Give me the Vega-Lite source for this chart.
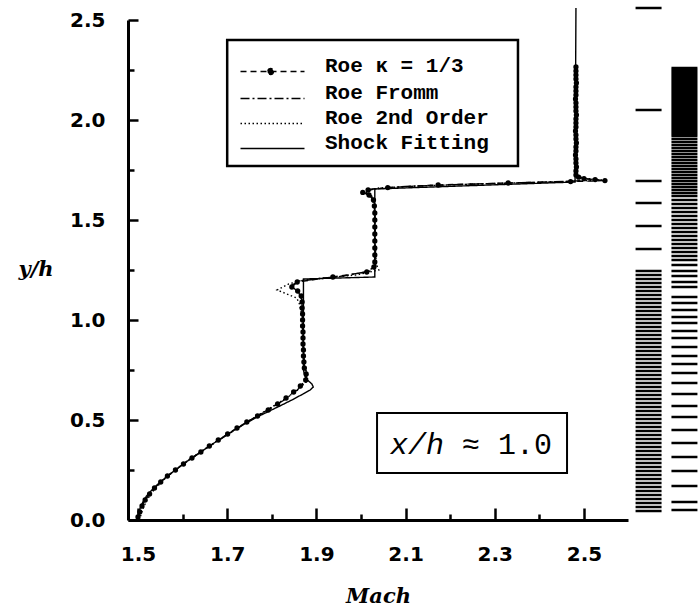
{
  "$schema": "https://vega.github.io/schema/vega-lite/v6.json",
  "width": 500,
  "height": 500,
  "autosize": {"type": "none"},
  "padding": {"left": 128, "top": 20, "right": 70, "bottom": 93},
  "background": "white",
  "config": {"view": {"stroke": null}, "font": "DejaVu Sans"},
  "datasets": {
    "curves": [
      {"series": "Roe κ = 1/3", "yh": 0.015, "mach": 1.500},
      {"series": "Roe κ = 1/3", "yh": 0.04, "mach": 1.504},
      {"series": "Roe κ = 1/3", "yh": 0.07, "mach": 1.509},
      {"series": "Roe κ = 1/3", "yh": 0.10, "mach": 1.516},
      {"series": "Roe κ = 1/3", "yh": 0.13, "mach": 1.526},
      {"series": "Roe κ = 1/3", "yh": 0.16, "mach": 1.537},
      {"series": "Roe κ = 1/3", "yh": 0.19, "mach": 1.551},
      {"series": "Roe κ = 1/3", "yh": 0.22, "mach": 1.566},
      {"series": "Roe κ = 1/3", "yh": 0.25, "mach": 1.584},
      {"series": "Roe κ = 1/3", "yh": 0.28, "mach": 1.602},
      {"series": "Roe κ = 1/3", "yh": 0.31, "mach": 1.621},
      {"series": "Roe κ = 1/3", "yh": 0.34, "mach": 1.641},
      {"series": "Roe κ = 1/3", "yh": 0.37, "mach": 1.660},
      {"series": "Roe κ = 1/3", "yh": 0.40, "mach": 1.680},
      {"series": "Roe κ = 1/3", "yh": 0.43, "mach": 1.701},
      {"series": "Roe κ = 1/3", "yh": 0.46, "mach": 1.722},
      {"series": "Roe κ = 1/3", "yh": 0.49, "mach": 1.744},
      {"series": "Roe κ = 1/3", "yh": 0.52, "mach": 1.768},
      {"series": "Roe κ = 1/3", "yh": 0.55, "mach": 1.792},
      {"series": "Roe κ = 1/3", "yh": 0.58, "mach": 1.813},
      {"series": "Roe κ = 1/3", "yh": 0.61, "mach": 1.832},
      {"series": "Roe κ = 1/3", "yh": 0.64, "mach": 1.849},
      {"series": "Roe κ = 1/3", "yh": 0.67, "mach": 1.864},
      {"series": "Roe κ = 1/3", "yh": 0.70, "mach": 1.876},
      {"series": "Roe κ = 1/3", "yh": 0.73, "mach": 1.877},
      {"series": "Roe κ = 1/3", "yh": 0.76, "mach": 1.873},
      {"series": "Roe κ = 1/3", "yh": 0.79, "mach": 1.872},
      {"series": "Roe κ = 1/3", "yh": 0.82, "mach": 1.871},
      {"series": "Roe κ = 1/3", "yh": 0.85, "mach": 1.871},
      {"series": "Roe κ = 1/3", "yh": 0.88, "mach": 1.870},
      {"series": "Roe κ = 1/3", "yh": 0.91, "mach": 1.870},
      {"series": "Roe κ = 1/3", "yh": 0.94, "mach": 1.870},
      {"series": "Roe κ = 1/3", "yh": 0.97, "mach": 1.869},
      {"series": "Roe κ = 1/3", "yh": 1.00, "mach": 1.869},
      {"series": "Roe κ = 1/3", "yh": 1.03, "mach": 1.869},
      {"series": "Roe κ = 1/3", "yh": 1.06, "mach": 1.868},
      {"series": "Roe κ = 1/3", "yh": 1.09, "mach": 1.868},
      {"series": "Roe κ = 1/3", "yh": 1.12, "mach": 1.866},
      {"series": "Roe κ = 1/3", "yh": 1.145, "mach": 1.858},
      {"series": "Roe κ = 1/3", "yh": 1.165, "mach": 1.845},
      {"series": "Roe κ = 1/3", "yh": 1.19, "mach": 1.857},
      {"series": "Roe κ = 1/3", "yh": 1.215, "mach": 1.937},
      {"series": "Roe κ = 1/3", "yh": 1.24, "mach": 2.013},
      {"series": "Roe κ = 1/3", "yh": 1.265, "mach": 2.029},
      {"series": "Roe κ = 1/3", "yh": 1.29, "mach": 2.031},
      {"series": "Roe κ = 1/3", "yh": 1.325, "mach": 2.031},
      {"series": "Roe κ = 1/3", "yh": 1.36, "mach": 2.031},
      {"series": "Roe κ = 1/3", "yh": 1.395, "mach": 2.031},
      {"series": "Roe κ = 1/3", "yh": 1.43, "mach": 2.031},
      {"series": "Roe κ = 1/3", "yh": 1.465, "mach": 2.031},
      {"series": "Roe κ = 1/3", "yh": 1.50, "mach": 2.031},
      {"series": "Roe κ = 1/3", "yh": 1.535, "mach": 2.031},
      {"series": "Roe κ = 1/3", "yh": 1.57, "mach": 2.030},
      {"series": "Roe κ = 1/3", "yh": 1.60, "mach": 2.028},
      {"series": "Roe κ = 1/3", "yh": 1.625, "mach": 2.018},
      {"series": "Roe κ = 1/3", "yh": 1.638, "mach": 2.004},
      {"series": "Roe κ = 1/3", "yh": 1.65, "mach": 2.016},
      {"series": "Roe κ = 1/3", "yh": 1.662, "mach": 2.060},
      {"series": "Roe κ = 1/3", "yh": 1.675, "mach": 2.173},
      {"series": "Roe κ = 1/3", "yh": 1.685, "mach": 2.330},
      {"series": "Roe κ = 1/3", "yh": 1.692, "mach": 2.470},
      {"series": "Roe κ = 1/3", "yh": 1.697, "mach": 2.547},
      {"series": "Roe κ = 1/3", "yh": 1.702, "mach": 2.525},
      {"series": "Roe κ = 1/3", "yh": 1.707, "mach": 2.500},
      {"series": "Roe κ = 1/3", "yh": 1.714, "mach": 2.488},
      {"series": "Roe κ = 1/3", "yh": 1.725, "mach": 2.482},
      {"series": "Roe κ = 1/3", "yh": 1.745, "mach": 2.482},
      {"series": "Roe κ = 1/3", "yh": 1.765, "mach": 2.483},
      {"series": "Roe κ = 1/3", "yh": 1.785, "mach": 2.482},
      {"series": "Roe κ = 1/3", "yh": 1.805, "mach": 2.482},
      {"series": "Roe κ = 1/3", "yh": 1.825, "mach": 2.481},
      {"series": "Roe κ = 1/3", "yh": 1.845, "mach": 2.482},
      {"series": "Roe κ = 1/3", "yh": 1.865, "mach": 2.482},
      {"series": "Roe κ = 1/3", "yh": 1.885, "mach": 2.483},
      {"series": "Roe κ = 1/3", "yh": 1.905, "mach": 2.482},
      {"series": "Roe κ = 1/3", "yh": 1.925, "mach": 2.482},
      {"series": "Roe κ = 1/3", "yh": 1.945, "mach": 2.481},
      {"series": "Roe κ = 1/3", "yh": 1.965, "mach": 2.482},
      {"series": "Roe κ = 1/3", "yh": 1.985, "mach": 2.482},
      {"series": "Roe κ = 1/3", "yh": 2.005, "mach": 2.482},
      {"series": "Roe κ = 1/3", "yh": 2.025, "mach": 2.483},
      {"series": "Roe κ = 1/3", "yh": 2.045, "mach": 2.482},
      {"series": "Roe κ = 1/3", "yh": 2.065, "mach": 2.482},
      {"series": "Roe κ = 1/3", "yh": 2.085, "mach": 2.482},
      {"series": "Roe κ = 1/3", "yh": 2.105, "mach": 2.481},
      {"series": "Roe κ = 1/3", "yh": 2.125, "mach": 2.482},
      {"series": "Roe κ = 1/3", "yh": 2.145, "mach": 2.482},
      {"series": "Roe κ = 1/3", "yh": 2.165, "mach": 2.482},
      {"series": "Roe κ = 1/3", "yh": 2.185, "mach": 2.483},
      {"series": "Roe κ = 1/3", "yh": 2.205, "mach": 2.482},
      {"series": "Roe κ = 1/3", "yh": 2.225, "mach": 2.482},
      {"series": "Roe κ = 1/3", "yh": 2.245, "mach": 2.482},
      {"series": "Roe κ = 1/3", "yh": 2.265, "mach": 2.482},

      {"series": "Roe Fromm", "yh": 0.0, "mach": 1.501},
      {"series": "Roe Fromm", "yh": 0.05, "mach": 1.505},
      {"series": "Roe Fromm", "yh": 0.10, "mach": 1.515},
      {"series": "Roe Fromm", "yh": 0.15, "mach": 1.533},
      {"series": "Roe Fromm", "yh": 0.20, "mach": 1.555},
      {"series": "Roe Fromm", "yh": 0.25, "mach": 1.583},
      {"series": "Roe Fromm", "yh": 0.30, "mach": 1.615},
      {"series": "Roe Fromm", "yh": 0.35, "mach": 1.648},
      {"series": "Roe Fromm", "yh": 0.40, "mach": 1.682},
      {"series": "Roe Fromm", "yh": 0.45, "mach": 1.717},
      {"series": "Roe Fromm", "yh": 0.50, "mach": 1.753},
      {"series": "Roe Fromm", "yh": 0.55, "mach": 1.790},
      {"series": "Roe Fromm", "yh": 0.60, "mach": 1.828},
      {"series": "Roe Fromm", "yh": 0.65, "mach": 1.857},
      {"series": "Roe Fromm", "yh": 0.69, "mach": 1.876},
      {"series": "Roe Fromm", "yh": 0.73, "mach": 1.879},
      {"series": "Roe Fromm", "yh": 0.77, "mach": 1.873},
      {"series": "Roe Fromm", "yh": 0.85, "mach": 1.871},
      {"series": "Roe Fromm", "yh": 1.00, "mach": 1.869},
      {"series": "Roe Fromm", "yh": 1.10, "mach": 1.867},
      {"series": "Roe Fromm", "yh": 1.14, "mach": 1.860},
      {"series": "Roe Fromm", "yh": 1.17, "mach": 1.842},
      {"series": "Roe Fromm", "yh": 1.195, "mach": 1.862},
      {"series": "Roe Fromm", "yh": 1.22, "mach": 1.960},
      {"series": "Roe Fromm", "yh": 1.245, "mach": 2.022},
      {"series": "Roe Fromm", "yh": 1.27, "mach": 2.033},
      {"series": "Roe Fromm", "yh": 1.40, "mach": 2.032},
      {"series": "Roe Fromm", "yh": 1.55, "mach": 2.031},
      {"series": "Roe Fromm", "yh": 1.62, "mach": 2.024},
      {"series": "Roe Fromm", "yh": 1.64, "mach": 2.010},
      {"series": "Roe Fromm", "yh": 1.655, "mach": 2.025},
      {"series": "Roe Fromm", "yh": 1.668, "mach": 2.100},
      {"series": "Roe Fromm", "yh": 1.68, "mach": 2.260},
      {"series": "Roe Fromm", "yh": 1.69, "mach": 2.420},
      {"series": "Roe Fromm", "yh": 1.697, "mach": 2.500},
      {"series": "Roe Fromm", "yh": 1.703, "mach": 2.515},
      {"series": "Roe Fromm", "yh": 1.71, "mach": 2.490},
      {"series": "Roe Fromm", "yh": 1.725, "mach": 2.483},
      {"series": "Roe Fromm", "yh": 2.00, "mach": 2.482},
      {"series": "Roe Fromm", "yh": 2.265, "mach": 2.482},

      {"series": "Roe 2nd Order", "yh": 0.0, "mach": 1.503},
      {"series": "Roe 2nd Order", "yh": 0.05, "mach": 1.510},
      {"series": "Roe 2nd Order", "yh": 0.10, "mach": 1.520},
      {"series": "Roe 2nd Order", "yh": 0.15, "mach": 1.536},
      {"series": "Roe 2nd Order", "yh": 0.20, "mach": 1.557},
      {"series": "Roe 2nd Order", "yh": 0.25, "mach": 1.583},
      {"series": "Roe 2nd Order", "yh": 0.30, "mach": 1.613},
      {"series": "Roe 2nd Order", "yh": 0.35, "mach": 1.646},
      {"series": "Roe 2nd Order", "yh": 0.40, "mach": 1.681},
      {"series": "Roe 2nd Order", "yh": 0.45, "mach": 1.716},
      {"series": "Roe 2nd Order", "yh": 0.50, "mach": 1.752},
      {"series": "Roe 2nd Order", "yh": 0.55, "mach": 1.789},
      {"series": "Roe 2nd Order", "yh": 0.60, "mach": 1.826},
      {"series": "Roe 2nd Order", "yh": 0.65, "mach": 1.858},
      {"series": "Roe 2nd Order", "yh": 0.69, "mach": 1.877},
      {"series": "Roe 2nd Order", "yh": 0.72, "mach": 1.882},
      {"series": "Roe 2nd Order", "yh": 0.75, "mach": 1.876},
      {"series": "Roe 2nd Order", "yh": 0.80, "mach": 1.872},
      {"series": "Roe 2nd Order", "yh": 1.00, "mach": 1.870},
      {"series": "Roe 2nd Order", "yh": 1.08, "mach": 1.862},
      {"series": "Roe 2nd Order", "yh": 1.11, "mach": 1.856},
      {"series": "Roe 2nd Order", "yh": 1.15, "mach": 1.812},
      {"series": "Roe 2nd Order", "yh": 1.18, "mach": 1.838},
      {"series": "Roe 2nd Order", "yh": 1.20, "mach": 1.870},
      {"series": "Roe 2nd Order", "yh": 1.225, "mach": 1.990},
      {"series": "Roe 2nd Order", "yh": 1.25, "mach": 2.040},
      {"series": "Roe 2nd Order", "yh": 1.28, "mach": 2.034},
      {"series": "Roe 2nd Order", "yh": 1.45, "mach": 2.031},
      {"series": "Roe 2nd Order", "yh": 1.60, "mach": 2.029},
      {"series": "Roe 2nd Order", "yh": 1.63, "mach": 2.012},
      {"series": "Roe 2nd Order", "yh": 1.645, "mach": 2.000},
      {"series": "Roe 2nd Order", "yh": 1.66, "mach": 2.040},
      {"series": "Roe 2nd Order", "yh": 1.672, "mach": 2.150},
      {"series": "Roe 2nd Order", "yh": 1.684, "mach": 2.320},
      {"series": "Roe 2nd Order", "yh": 1.693, "mach": 2.470},
      {"series": "Roe 2nd Order", "yh": 1.700, "mach": 2.540},
      {"series": "Roe 2nd Order", "yh": 1.708, "mach": 2.505},
      {"series": "Roe 2nd Order", "yh": 1.72, "mach": 2.479},
      {"series": "Roe 2nd Order", "yh": 1.75, "mach": 2.484},
      {"series": "Roe 2nd Order", "yh": 2.00, "mach": 2.482},
      {"series": "Roe 2nd Order", "yh": 2.265, "mach": 2.482},

      {"series": "Shock Fitting", "yh": 0.0, "mach": 1.499},
      {"series": "Shock Fitting", "yh": 0.03, "mach": 1.501},
      {"series": "Shock Fitting", "yh": 0.06, "mach": 1.505},
      {"series": "Shock Fitting", "yh": 0.09, "mach": 1.511},
      {"series": "Shock Fitting", "yh": 0.12, "mach": 1.519},
      {"series": "Shock Fitting", "yh": 0.15, "mach": 1.531},
      {"series": "Shock Fitting", "yh": 0.18, "mach": 1.545},
      {"series": "Shock Fitting", "yh": 0.21, "mach": 1.561},
      {"series": "Shock Fitting", "yh": 0.24, "mach": 1.578},
      {"series": "Shock Fitting", "yh": 0.27, "mach": 1.596},
      {"series": "Shock Fitting", "yh": 0.30, "mach": 1.614},
      {"series": "Shock Fitting", "yh": 0.33, "mach": 1.634},
      {"series": "Shock Fitting", "yh": 0.36, "mach": 1.654},
      {"series": "Shock Fitting", "yh": 0.39, "mach": 1.674},
      {"series": "Shock Fitting", "yh": 0.42, "mach": 1.695},
      {"series": "Shock Fitting", "yh": 0.45, "mach": 1.716},
      {"series": "Shock Fitting", "yh": 0.48, "mach": 1.739},
      {"series": "Shock Fitting", "yh": 0.51, "mach": 1.763},
      {"series": "Shock Fitting", "yh": 0.54, "mach": 1.790},
      {"series": "Shock Fitting", "yh": 0.57, "mach": 1.818},
      {"series": "Shock Fitting", "yh": 0.60, "mach": 1.845},
      {"series": "Shock Fitting", "yh": 0.63, "mach": 1.870},
      {"series": "Shock Fitting", "yh": 0.65, "mach": 1.886},
      {"series": "Shock Fitting", "yh": 0.665, "mach": 1.893},
      {"series": "Shock Fitting", "yh": 0.68, "mach": 1.890},
      {"series": "Shock Fitting", "yh": 0.70, "mach": 1.880},
      {"series": "Shock Fitting", "yh": 0.72, "mach": 1.874},
      {"series": "Shock Fitting", "yh": 0.75, "mach": 1.871},
      {"series": "Shock Fitting", "yh": 1.205, "mach": 1.871},
      {"series": "Shock Fitting", "yh": 1.215, "mach": 2.031},
      {"series": "Shock Fitting", "yh": 1.655, "mach": 2.031},
      {"series": "Shock Fitting", "yh": 1.69, "mach": 2.480},
      {"series": "Shock Fitting", "yh": 2.56, "mach": 2.482}
    ],
    "mesh": [
      {"strip": "A", "yh": 2.56}, {"strip": "A", "yh": 2.05}, {"strip": "A", "yh": 1.695}, {"strip": "A", "yh": 1.585},
      {"strip": "A", "yh": 1.47}, {"strip": "A", "yh": 1.355},
      {"strip": "A", "yh": 1.245}, {"strip": "A", "yh": 1.225}, {"strip": "A", "yh": 1.205}, {"strip": "A", "yh": 1.185},
      {"strip": "A", "yh": 1.165}, {"strip": "A", "yh": 1.145}, {"strip": "A", "yh": 1.125}, {"strip": "A", "yh": 1.105},
      {"strip": "A", "yh": 1.085}, {"strip": "A", "yh": 1.065}, {"strip": "A", "yh": 1.045}, {"strip": "A", "yh": 1.025},
      {"strip": "A", "yh": 1.005}, {"strip": "A", "yh": 0.985}, {"strip": "A", "yh": 0.965}, {"strip": "A", "yh": 0.945},
      {"strip": "A", "yh": 0.925}, {"strip": "A", "yh": 0.905}, {"strip": "A", "yh": 0.885}, {"strip": "A", "yh": 0.865},
      {"strip": "A", "yh": 0.845}, {"strip": "A", "yh": 0.825}, {"strip": "A", "yh": 0.805}, {"strip": "A", "yh": 0.785},
      {"strip": "A", "yh": 0.765}, {"strip": "A", "yh": 0.745}, {"strip": "A", "yh": 0.725}, {"strip": "A", "yh": 0.705},
      {"strip": "A", "yh": 0.685}, {"strip": "A", "yh": 0.665}, {"strip": "A", "yh": 0.645}, {"strip": "A", "yh": 0.625},
      {"strip": "A", "yh": 0.605}, {"strip": "A", "yh": 0.585}, {"strip": "A", "yh": 0.565}, {"strip": "A", "yh": 0.545},
      {"strip": "A", "yh": 0.525}, {"strip": "A", "yh": 0.505}, {"strip": "A", "yh": 0.485}, {"strip": "A", "yh": 0.465},
      {"strip": "A", "yh": 0.445}, {"strip": "A", "yh": 0.425}, {"strip": "A", "yh": 0.405}, {"strip": "A", "yh": 0.385},
      {"strip": "A", "yh": 0.365}, {"strip": "A", "yh": 0.345}, {"strip": "A", "yh": 0.325}, {"strip": "A", "yh": 0.305},
      {"strip": "A", "yh": 0.285}, {"strip": "A", "yh": 0.265}, {"strip": "A", "yh": 0.245}, {"strip": "A", "yh": 0.225},
      {"strip": "A", "yh": 0.205}, {"strip": "A", "yh": 0.185}, {"strip": "A", "yh": 0.165}, {"strip": "A", "yh": 0.145},
      {"strip": "A", "yh": 0.125}, {"strip": "A", "yh": 0.105}, {"strip": "A", "yh": 0.085}, {"strip": "A", "yh": 0.065},
      {"strip": "A", "yh": 0.045},
      {"strip": "B", "yh": 2.26}, {"strip": "B", "yh": 2.25}, {"strip": "B", "yh": 2.24}, {"strip": "B", "yh": 2.23},
      {"strip": "B", "yh": 2.22}, {"strip": "B", "yh": 2.21}, {"strip": "B", "yh": 2.20}, {"strip": "B", "yh": 2.19},
      {"strip": "B", "yh": 2.18}, {"strip": "B", "yh": 2.17}, {"strip": "B", "yh": 2.16}, {"strip": "B", "yh": 2.15},
      {"strip": "B", "yh": 2.14}, {"strip": "B", "yh": 2.13}, {"strip": "B", "yh": 2.12}, {"strip": "B", "yh": 2.11},
      {"strip": "B", "yh": 2.10}, {"strip": "B", "yh": 2.09}, {"strip": "B", "yh": 2.08}, {"strip": "B", "yh": 2.07},
      {"strip": "B", "yh": 2.06}, {"strip": "B", "yh": 2.05}, {"strip": "B", "yh": 2.04}, {"strip": "B", "yh": 2.03},
      {"strip": "B", "yh": 2.02}, {"strip": "B", "yh": 2.01}, {"strip": "B", "yh": 2.00}, {"strip": "B", "yh": 1.99},
      {"strip": "B", "yh": 1.98}, {"strip": "B", "yh": 1.97}, {"strip": "B", "yh": 1.96}, {"strip": "B", "yh": 1.95},
      {"strip": "B", "yh": 1.94}, {"strip": "B", "yh": 1.93}, {"strip": "B", "yh": 1.92},
      {"strip": "B", "yh": 1.905}, {"strip": "B", "yh": 1.89}, {"strip": "B", "yh": 1.875}, {"strip": "B", "yh": 1.86},
      {"strip": "B", "yh": 1.845}, {"strip": "B", "yh": 1.83}, {"strip": "B", "yh": 1.815}, {"strip": "B", "yh": 1.80},
      {"strip": "B", "yh": 1.785}, {"strip": "B", "yh": 1.77}, {"strip": "B", "yh": 1.755}, {"strip": "B", "yh": 1.74},
      {"strip": "B", "yh": 1.725}, {"strip": "B", "yh": 1.71}, {"strip": "B", "yh": 1.695}, {"strip": "B", "yh": 1.68},
      {"strip": "B", "yh": 1.665}, {"strip": "B", "yh": 1.65}, {"strip": "B", "yh": 1.635}, {"strip": "B", "yh": 1.62},
      {"strip": "B", "yh": 1.60}, {"strip": "B", "yh": 1.58}, {"strip": "B", "yh": 1.56}, {"strip": "B", "yh": 1.54},
      {"strip": "B", "yh": 1.52}, {"strip": "B", "yh": 1.50}, {"strip": "B", "yh": 1.48}, {"strip": "B", "yh": 1.46},
      {"strip": "B", "yh": 1.44}, {"strip": "B", "yh": 1.42}, {"strip": "B", "yh": 1.40}, {"strip": "B", "yh": 1.38},
      {"strip": "B", "yh": 1.36}, {"strip": "B", "yh": 1.34}, {"strip": "B", "yh": 1.32}, {"strip": "B", "yh": 1.30},
      {"strip": "B", "yh": 1.275}, {"strip": "B", "yh": 1.245}, {"strip": "B", "yh": 1.22}, {"strip": "B", "yh": 1.19},
      {"strip": "B", "yh": 1.165}, {"strip": "B", "yh": 1.115}, {"strip": "B", "yh": 1.085}, {"strip": "B", "yh": 1.05},
      {"strip": "B", "yh": 1.015}, {"strip": "B", "yh": 0.985}, {"strip": "B", "yh": 0.945}, {"strip": "B", "yh": 0.91},
      {"strip": "B", "yh": 0.865}, {"strip": "B", "yh": 0.82}, {"strip": "B", "yh": 0.78}, {"strip": "B", "yh": 0.735},
      {"strip": "B", "yh": 0.685}, {"strip": "B", "yh": 0.63}, {"strip": "B", "yh": 0.57}, {"strip": "B", "yh": 0.515},
      {"strip": "B", "yh": 0.45}, {"strip": "B", "yh": 0.385}, {"strip": "B", "yh": 0.315}, {"strip": "B", "yh": 0.245},
      {"strip": "B", "yh": 0.17}, {"strip": "B", "yh": 0.09}, {"strip": "B", "yh": 0.05}
    ]
  },
  "layer": [
    {
      "layer": [
        {
          "data": {"name": "curves"},
          "mark": {"type": "line", "color": "black", "strokeWidth": 1.4, "clip": false},
          "encoding": {
            "x": {
              "field": "mach", "type": "quantitative",
              "scale": {"domain": [1.4776, 2.5987], "nice": false, "zero": false},
              "axis": {
                "values": [1.5, 1.6, 1.7, 1.8, 1.9, 2.0, 2.1, 2.2, 2.3, 2.4, 2.5],
                "labelExpr": "round(datum.value*10)%2==1 ? format(datum.value,'.1f') : ''",
                "labelFont": "DejaVu Sans", "labelFontWeight": "bold", "labelFontSize": 20, "labelColor": "black",
                "labelPadding": 36, "labelFlush": false, "labelOverlap": false,
                "tickSize": {"condition": {"test": "round(datum.value*10)%2==1", "value": -12}, "value": -6},
                "tickWidth": 2.5, "tickColor": "black",
                "domainWidth": 3, "domainColor": "black", "grid": false,
                "title": "Mach", "titleFont": "DejaVu Serif", "titleFontStyle": "italic", "titleFontWeight": "bold",
                "titleFontSize": 21, "titleColor": "black", "titlePadding": 15
              }
            },
            "y": {
              "field": "yh", "type": "quantitative",
              "scale": {"domain": [0, 2.5], "nice": false, "zero": false},
              "axis": {
                "values": [0, 0.25, 0.5, 0.75, 1.0, 1.25, 1.5, 1.75, 2.0, 2.25, 2.5],
                "labelExpr": "round(datum.value*4)%2==0 ? format(datum.value,'.1f') : ''",
                "labelFont": "DejaVu Sans", "labelFontWeight": "bold", "labelFontSize": 20, "labelColor": "black",
                "labelPadding": 33, "labelFlush": false, "labelOverlap": false,
                "tickSize": {"condition": {"test": "round(datum.value*4)%2==0", "value": -10}, "value": -6},
                "tickWidth": 2.5, "tickColor": "black",
                "domainWidth": 3, "domainColor": "black", "grid": false,
                "title": "y/h", "titleFont": "DejaVu Serif", "titleFontStyle": "italic", "titleFontWeight": "bold",
                "titleFontSize": 21, "titleColor": "black", "titleAngle": 0, "titleAlign": "left",
                "titleBaseline": "alphabetic", "titleX": -110, "titleY": 255
              }
            },
            "order": {"field": "yh", "type": "quantitative"},
            "strokeDash": {
              "field": "series", "type": "nominal",
              "scale": {
                "domain": ["Roe κ = 1/3", "Roe Fromm", "Roe 2nd Order", "Shock Fitting"],
                "range": [[6, 4], [9, 3, 2, 3], [1.5, 2.5], [1, 0]]
              },
              "legend": {
                "title": null, "orient": "none", "legendX": 110, "legendY": 41, "padding": 0,
                "symbolType": "M-1,0H7", "symbolSize": 256, "symbolStrokeWidth": 1.3, "symbolStrokeColor": "black",
                "labelFont": "Liberation Mono", "labelFontWeight": "bold", "labelFontSize": 21, "labelColor": "black",
                "labelBaseline": "alphabetic", "labelOffset": 66, "rowPadding": 3, "labelLimit": 400,
                "encode": {
                  "symbols": {
                    "update": {
                      "shape": {"signal": "datum.value === 'Roe κ = 1/3' ? 'M-1,0H7M3.125,0A0.375,0.375 0 1,1 2.375,0A0.375,0.375 0 1,1 3.125,0' : 'M-1,0H7'"},
                      "fill": {"signal": "datum.value === 'Roe κ = 1/3' ? 'black' : 'transparent'"},
                      "stroke": {"value": "black"},
                      "strokeWidth": {"value": 1.3},
                      "strokeDash": {"scale": "strokeDash", "field": "value"},
                      "opacity": {"value": 1}
                    }
                  }
                }
              }
            }
          }
        },
        {
          "data": {"name": "curves"},
          "transform": [{"filter": "datum.series === 'Roe κ = 1/3'"}],
          "mark": {"type": "point", "filled": true, "size": 28, "color": "black", "opacity": 1, "clip": false},
          "encoding": {
            "x": {"field": "mach", "type": "quantitative", "scale": {"domain": [1.4776, 2.5987], "nice": false, "zero": false}},
            "y": {"field": "yh", "type": "quantitative", "scale": {"domain": [0, 2.5], "nice": false, "zero": false}}
          }
        },
        {
          "data": {"values": [{}]},
          "mark": {"type": "rect", "fill": null, "fillOpacity": 0, "stroke": "black", "strokeWidth": 2.5},
          "encoding": {
            "x": {"datum": 1.70, "type": "quantitative", "scale": {"domain": [1.4776, 2.5987], "nice": false, "zero": false}},
            "x2": {"datum": 2.352},
            "y": {"datum": 1.77, "type": "quantitative", "scale": {"domain": [0, 2.5], "nice": false, "zero": false}},
            "y2": {"datum": 2.40}
          }
        },
        {
          "data": {"values": [{}]},
          "mark": {"type": "rect", "fill": null, "fillOpacity": 0, "stroke": "black", "strokeWidth": 2},
          "encoding": {
            "x": {"datum": 2.036, "type": "quantitative", "scale": {"domain": [1.4776, 2.5987], "nice": false, "zero": false}},
            "x2": {"datum": 2.462},
            "y": {"datum": 0.235, "type": "quantitative", "scale": {"domain": [0, 2.5], "nice": false, "zero": false}},
            "y2": {"datum": 0.535}
          }
        },
        {
          "data": {"values": [{}]},
          "mark": {"type": "text", "text": "x/h", "font": "Liberation Mono", "fontStyle": "italic", "fontSize": 30, "align": "left", "baseline": "alphabetic", "color": "black"},
          "encoding": {
            "x": {"datum": 2.065, "type": "quantitative", "scale": {"domain": [1.4776, 2.5987], "nice": false, "zero": false}},
            "y": {"datum": 0.33, "type": "quantitative", "scale": {"domain": [0, 2.5], "nice": false, "zero": false}}
          }
        },
        {
          "data": {"values": [{}]},
          "mark": {"type": "text", "text": "≈ 1.0", "font": "Liberation Mono", "fontSize": 30, "align": "left", "baseline": "alphabetic", "color": "black"},
          "encoding": {
            "x": {"datum": 2.2265, "type": "quantitative", "scale": {"domain": [1.4776, 2.5987], "nice": false, "zero": false}},
            "y": {"datum": 0.33, "type": "quantitative", "scale": {"domain": [0, 2.5], "nice": false, "zero": false}}
          }
        }
      ]
    },
    {
      "data": {"name": "mesh"},
      "mark": {"type": "tick", "orient": "horizontal", "thickness": 2.5, "size": 26, "color": "black", "opacity": 1, "clip": false},
      "encoding": {
        "x": {"field": "strip", "type": "nominal", "scale": {"range": [508, 569], "paddingInner": 0.3, "paddingOuter": 0}, "axis": null},
        "y": {"field": "yh", "type": "quantitative", "scale": {"domain": [0, 2.5], "nice": false, "zero": false}}
      }
    }
  ],
  "resolve": {"scale": {"x": "independent"}}
}
